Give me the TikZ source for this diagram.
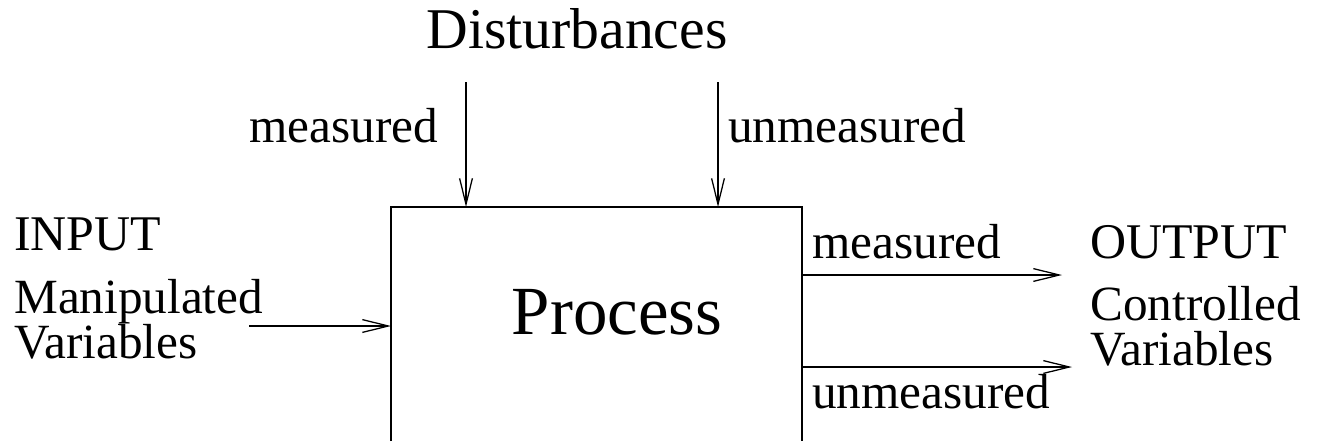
\documentclass[tikz,border=0pt]{standalone}
\usepackage{fontspec}
\setmainfont{Liberation Serif}
\usetikzlibrary{arrows.meta}
\begin{document}
\begin{tikzpicture}[x=0.025cm,y=-0.025cm,
  lbl/.style={inner sep=0pt,anchor=base west,font=\fontsize{35}{38}\selectfont},
  big/.style={inner sep=0pt,anchor=base west,font=\fontsize{35.5}{40}\selectfont},
  arr/.style={line width=0.9pt,-{Straight Barb[length=6.5mm,width=3.2mm,line width=0.9pt]}},
  boxline/.style={line width=1.2pt}]
\useasboundingbox (0,0) rectangle (1319,441);
% box (bottom edge lies outside the picture)
\coordinate (bl) at (391,441);
\coordinate (tl) at (391,207);
\coordinate (tr) at (802,207);
\coordinate (br) at (802,441);
\draw[boxline] (bl) -- (tl) -- (tr) -- (br);
\node[inner sep=0pt,anchor=base,font=\fontsize{49}{54}\selectfont] (proc) at (617,334) {Process};
% disturbances
\node[inner sep=0pt,anchor=base,font=\fontsize{41}{46}\selectfont] (dist) at (577,48) {Disturbances};
\coordinate (d1s) at (466,82);
\coordinate (d1e) at (466,207);
\coordinate (d2s) at (718,82);
\coordinate (d2e) at (718,207);
\draw[arr] (d1s) -- (d1e);
\draw[arr] (d2s) -- (d2e);
\node[lbl] (dm) at (249,142) {measured};
\node[lbl] (du) at (728,142) {unmeasured};
% input
\node[big] (inp) at (14,250) {INPUT};
\node[lbl] (man) at (14,313) {Manipulated};
\node[lbl] (var1) at (14,358) {Variables};
\coordinate (is) at (249,326);
\coordinate (ie) at (391,326);
\draw[arr] (is) -- (ie);
% outputs
\coordinate (o1s) at (802,275);
\coordinate (o1e) at (1062,275);
\coordinate (o2s) at (802,367);
\coordinate (o2e) at (1072,367);
\draw[arr] (o1s) -- (o1e);
\draw[arr] (o2s) -- (o2e);
\node[lbl] (om) at (812,258) {measured};
\node[lbl] (ou) at (812,408) {unmeasured};
\node[big] (out) at (1090,258) {OUTPUT};
\node[lbl] (ctl) at (1090,320) {Controlled};
\node[lbl] (var2) at (1090,365) {Variables};
\end{tikzpicture}
\end{document}
